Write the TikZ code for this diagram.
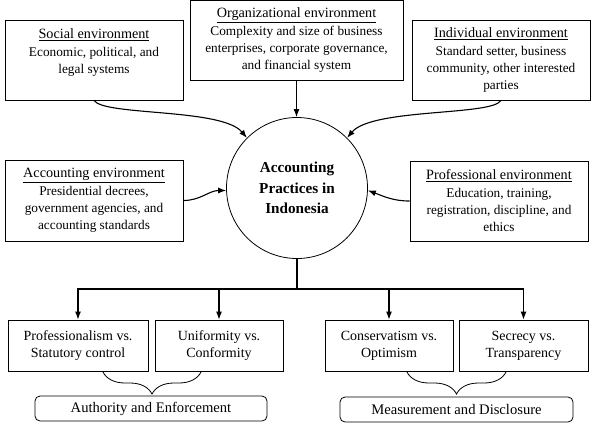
\documentclass[tikz,border=0pt]{standalone}
\usepackage{fontspec}
\setmainfont{Liberation Serif}
\usepackage{tikz}
\usetikzlibrary{arrows.meta,decorations.pathreplacing}
\newcommand{\envfont}{\fontsize{13.3}{17}\selectfont}
\newcommand{\envtitle}[1]{{\fontsize{14.2}{17}\selectfont\underline{#1}}}
\newcommand{\topicfont}{\fontsize{14}{17}\selectfont}
\tikzstyle{envbox} = [draw, line width=0.8pt, align=center, font=\envfont, inner sep=0pt]
\tikzstyle{topicbox} = [draw, line width=0.8pt, align=center, font=\topicfont, inner sep=0pt, minimum height=51pt]
\tikzstyle{groupbox} = [draw, line width=0.8pt, rounded corners=5pt, font=\fontsize{14.6}{17}\selectfont, inner sep=0pt, minimum height=25pt]
\tikzstyle{hub} = [draw, line width=0.8pt, circle, minimum size=141pt, inner sep=0pt, align=center, font=\bfseries\fontsize{15.2}{20.5}\selectfont]
\tikzstyle{arw} = [style={-{Latex[length=8pt,width=6pt]},line width=1.1pt}]
\tikzstyle{ln} = [line width=1.1pt]
\tikzstyle{brc} = [decorate, decoration={brace,mirror,amplitude=22pt}, line width=0.8pt]

\begin{document}
\begin{tikzpicture}[x=1pt,y=-1pt]
        \useasboundingbox (0,0) rectangle (594,424);
        % environments
        \node[envbox, minimum width=178pt, minimum height=80pt] (social) at (94,60) {\envtitle{Social environment}\\[1pt]Economic, political, and\\legal systems\\~};
        \node[envbox, minimum width=213pt, minimum height=80pt] (organizational) at (296.5,40) {\envtitle{Organizational environment}\\[1pt]Complexity and size of business\\enterprises, corporate governance,\\and financial system};
        \node[envbox, minimum width=178pt, minimum height=80pt] (individual) at (501,60) {\envtitle{Individual environment}\\[1pt]Standard setter, business\\community, other interested\\parties};
        \node[envbox, minimum width=178pt, minimum height=81pt] (accounting) at (94,200.5) {\envtitle{Accounting environment}\\[1pt]Presidential decrees,\\government agencies, and\\accounting standards};
        \node[envbox, minimum width=178pt, minimum height=80pt] (professional) at (499,201) {\envtitle{Professional environment}\\[1pt]Education, training,\\registration, discipline, and\\ethics};
        \node[hub] (practice) at (297,188) {Accounting\\Practices in\\Indonesia};
        % issues
        \node[topicbox, minimum width=140pt] (profstat) at (78,345.5) {Professionalism vs.\\Statutory control};
        \node[topicbox, minimum width=128pt] (uniconf) at (219,345.5) {Uniformity vs.\\Conformity};
        \node[topicbox, minimum width=128pt] (conserv) at (389,345.5) {Conservatism vs.\\Optimism};
        \node[topicbox, minimum width=129pt] (secrecy) at (523.5,345.5) {Secrecy vs.\\Transparency};
        \node[groupbox, minimum width=232pt] (authority) at (151,408.5) {Authority and Enforcement};
        \node[groupbox, minimum width=233pt] (measure) at (456.5,409.5) {Measurement and Disclosure};
        % influences
        \draw[arw] (social.south) .. controls (104,116) and (222,108) .. (practice.135);
        \draw[arw] (organizational.south) -- (organizational.south |- practice.north);
        \draw[arw] (individual.south) .. controls (492,116) and (372,108) .. (practice.45);
        \draw[arw] (accounting.east) to[out=0,in=180] (practice.182);
        \draw[arw] (professional.west) to[out=180,in=-20] (practice.-2);
        % tree
        \draw[ln] (practice.south) -- (297,289) coordinate (split);
        \draw[arw] (split) -| (profstat.north);
        \draw[arw] (split) -| (uniconf.north);
        \draw[arw] (split) -| (conserv.north);
        \draw[arw] (split) -| (secrecy.north);
        \draw[brc] (103,372) -- (201,372);
        \draw[brc] (407,372) -- (506,372);
      \end{tikzpicture}
\end{document}
